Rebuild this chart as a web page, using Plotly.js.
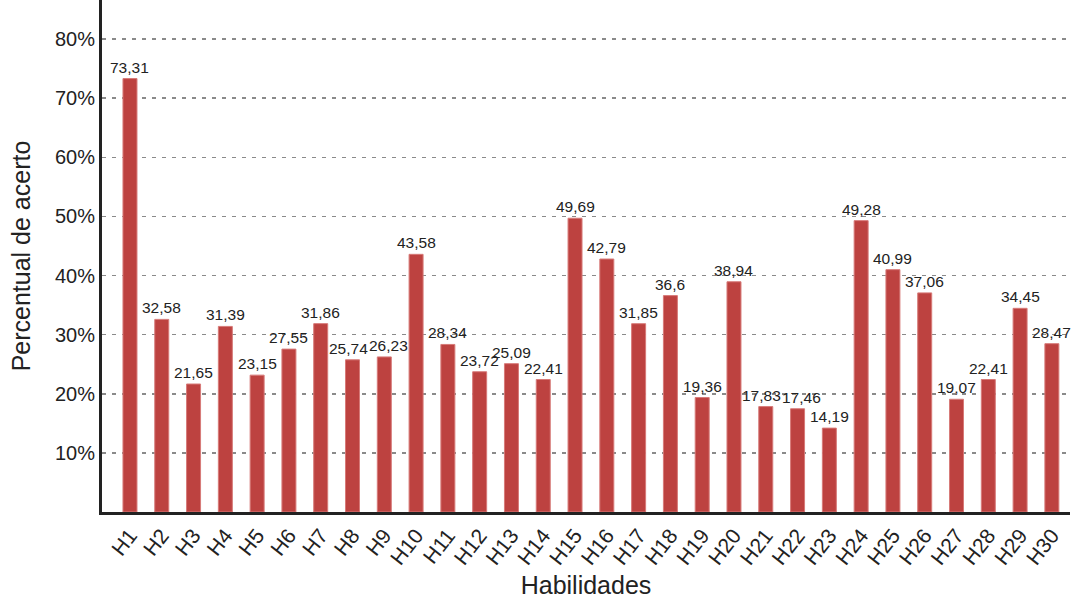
<!DOCTYPE html>
<html>
<head>
<meta charset="utf-8">
<script src="https://cdn.plot.ly/plotly-3.0.1.min.js"></script>
<style>
  html, body { margin: 0; padding: 0; background: #fff; }
  #chart { width: 1071px; height: 599px; }
</style>
</head>
<body>
<div id="chart"></div>
<script>
// Percentual de acerto por habilidade
const habilidades = ["H1","H2","H3","H4","H5","H6","H7","H8","H9","H10",
  "H11","H12","H13","H14","H15","H16","H17","H18","H19","H20",
  "H21","H22","H23","H24","H25","H26","H27","H28","H29","H30"];
const acerto = [73.31, 32.58, 21.65, 31.39, 23.15, 27.55, 31.86, 25.74, 26.23, 43.58,
  28.34, 23.72, 25.09, 22.41, 49.69, 42.79, 31.85, 36.6, 19.36, 38.94,
  17.83, 17.46, 14.19, 49.28, 40.99, 37.06, 19.07, 22.41, 34.45, 28.47];
const yTicks = [10, 20, 30, 40, 50, 60, 70, 80];
const yTickText = yTicks.map(v => v + "%");

// decimal comma labels
const rotulos = acerto.map(v => String(v).replace(".", ","));

const fonte = "Liberation Sans, Arial, sans-serif";

// neighbouring labels at nearly the same height are nudged apart a little
const afastar = { "H8": -4, "H9": 4, "H21": -4, "H22": 4 };

const trace = {
  type: "bar",
  x: habilidades,
  y: acerto,
  marker: { color: "#bd4240", line: { color: "#d77a78", width: 1 } },
  width: 0.44,
  hoverinfo: "x+y"
};

const rotulosValor = habilidades.map((h, i) => ({
  x: h,
  y: acerto[i],
  text: rotulos[i],
  showarrow: false,
  xanchor: "center",
  yanchor: "bottom",
  yshift: 1,
  xshift: afastar[h] || 0,
  font: { family: fonte, size: 15.5, color: "#222" }
}));

const layout = {
  width: 1071,
  height: 599,
  margin: { l: 102, r: 1, t: 0, b: 87 },
  paper_bgcolor: "#fff",
  plot_bgcolor: "#fff",
  showlegend: false,
  font: { family: fonte, color: "#222" },
  annotations: rotulosValor,
  xaxis: {
    type: "category",
    range: [-0.88, 29.57],
    tickangle: -52,
    tickfont: { size: 21, color: "#222" },
    showline: true,
    linecolor: "#222",
    linewidth: 3,
    showgrid: false,
    ticks: "",
    title: { text: "Habilidades", font: { size: 25, color: "#222" }, standoff: 16 }
  },
  yaxis: {
    range: [0, 86.6],
    tickvals: yTicks,
    ticktext: yTickText,
    tickfont: { size: 20, color: "#222" },
    showline: true,
    linecolor: "#222",
    linewidth: 3,
    showgrid: true,
    gridcolor: "#8a8a8a",
    griddash: "4px,6px",
    gridwidth: 1.5,
    zeroline: false,
    ticks: "",
    title: { text: "Percentual de acerto", font: { size: 25, color: "#222" }, standoff: 18 }
  },
  bargap: 0.56
};

Plotly.newPlot("chart", [trace], layout, { displayModeBar: false, staticPlot: true });
</script>
</body>
</html>
